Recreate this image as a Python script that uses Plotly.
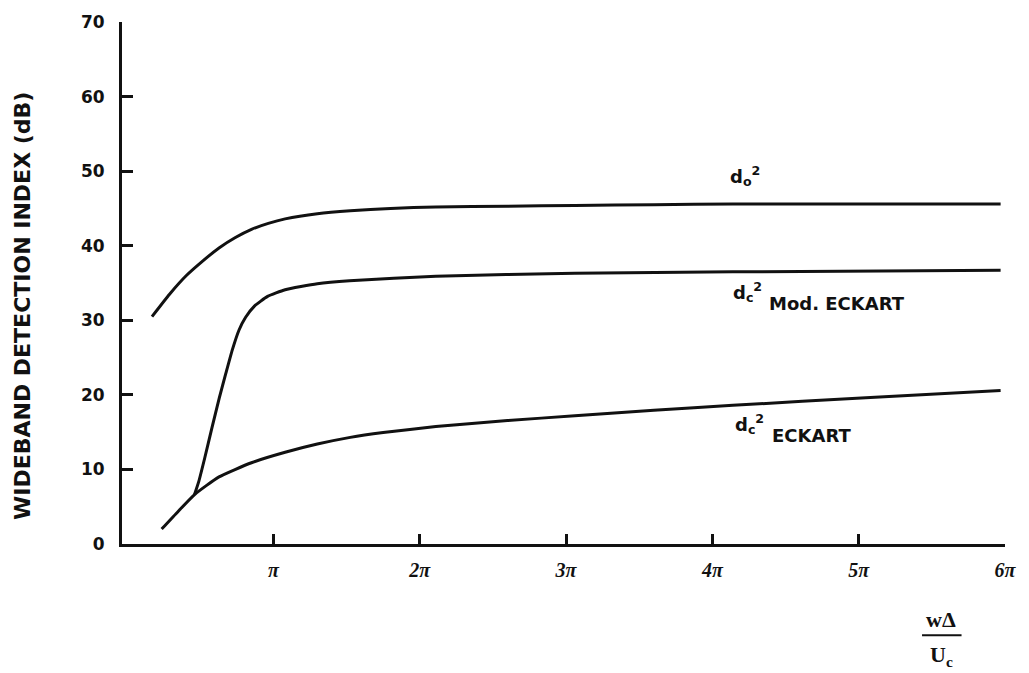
import plotly.graph_objects as go

# ---- data (x in units of pi, y in dB) ----
x_do = [0.17, 0.29, 0.405, 0.52, 0.628, 0.74, 0.85, 0.965, 1.08, 1.30, 1.525, 1.80, 2.11, 2.60, 3.06, 3.60, 4.14, 5.00, 5.97]
y_do = [30.5, 33.5, 36.0, 38.0, 39.7, 41.1, 42.2, 43.0, 43.6, 44.3, 44.7, 45.0, 45.2, 45.3, 45.4, 45.5, 45.6, 45.6, 45.6]

x_mod = [0.46, 0.49, 0.53, 0.58, 0.63, 0.675, 0.72, 0.765, 0.81, 0.87, 0.96, 1.08, 1.30, 1.52, 2.11, 3.06, 4.14, 5.97]
y_mod = [6.6, 8.4, 11.5, 15.6, 19.6, 22.9, 26.1, 28.7, 30.4, 31.9, 33.2, 34.1, 34.9, 35.3, 35.9, 36.3, 36.5, 36.7]

x_eck = [0.236, 0.35, 0.459, 0.628, 0.85, 1.08, 1.30, 1.525, 1.75, 2.11, 2.60, 3.06, 3.60, 4.14, 5.08, 5.97]
y_eck = [2.0, 4.4, 6.6, 9.0, 10.9, 12.3, 13.4, 14.3, 14.95, 15.75, 16.55, 17.2, 17.95, 18.6, 19.65, 20.6]

x_tickvals = [1, 2, 3, 4, 5, 6]
x_ticktext = ["π", "2π", "3π", "4π", "5π", "6π"]
y_tickvals = [0, 10, 20, 30, 40, 50, 60, 70]

W, H = 1029, 673
L, R, T, B = 122, 13, 18, 129
PW, PH = W - L - R, H - T - B


def px(x):
    return (x - L) / PW


def py(y):
    return (H - B - y) / PH


line_style = dict(color="#111111", width=3, shape="spline", smoothing=0.5)

fig = go.Figure()
for xs, ys in [(x_do, y_do), (x_mod, y_mod), (x_eck, y_eck)]:
    fig.add_trace(go.Scatter(x=xs, y=ys, mode="lines", line=line_style,
                             showlegend=False, hoverinfo="skip"))

lab_font = dict(family="DejaVu Sans", size=18, color="#111111", weight="bold")
ann = []
ann.append(dict(text="d<sub>o</sub><sup>2</sup>", x=px(736), y=py(173), xanchor="left", yanchor="middle",
                font=lab_font))
ann.append(dict(text="d<sub>c</sub><sup>2</sup>", x=px(739), y=py(290), xanchor="left", yanchor="middle",
                font=lab_font))
ann.append(dict(text="Mod. ECKART", x=px(775), y=py(302), xanchor="left", yanchor="middle",
                font=lab_font))
ann.append(dict(text="d<sub>c</sub><sup>2</sup>", x=px(741), y=py(423), xanchor="left", yanchor="middle",
                font=lab_font))
ann.append(dict(text="ECKART", x=px(778), y=py(435), xanchor="left", yanchor="middle",
                font=lab_font))
# y-axis title
ann.append(dict(text="WIDEBAND DETECTION INDEX (dB)", x=px(22), y=py(304), textangle=-90,
                xanchor="center", yanchor="middle",
                font=dict(family="DejaVu Sans", size=22, color="#111111", weight="bold")))
# x-axis title as a fraction
serif = dict(family="Liberation Serif", size=22, color="#111111", weight="bold")
ann.append(dict(text="wΔ", x=px(951), y=py(620), xanchor="center", yanchor="middle", font=serif))
ann.append(dict(text="U<sub>c</sub>", x=px(952), y=py(657), xanchor="center", yanchor="middle", font=serif))
for a in ann:
    a.update(xref="paper", yref="paper", showarrow=False)

fig.update_layout(
    width=W, height=H,
    margin=dict(l=L, r=R, t=T, b=B),
    paper_bgcolor="white", plot_bgcolor="white",
    annotations=ann,
    shapes=[dict(type="line", xref="paper", yref="paper", x0=px(932), x1=px(972), y0=py(636), y1=py(636),
                 line=dict(color="#111111", width=2))],
    xaxis=dict(range=[-0.035, 6.0], tickmode="array", tickvals=x_tickvals, ticktext=x_ticktext,
               ticks="inside", ticklen=10, tickwidth=2.5, tickcolor="#111111",
               showline=True, linewidth=3, linecolor="#111111", showgrid=False, zeroline=False,
               tickfont=dict(family="Liberation Serif", size=20, color="#111111", style="italic", weight="bold"),
               ticklabelstandoff=6),
    yaxis=dict(range=[0, 70], tickmode="array", tickvals=y_tickvals,
               ticks="inside", ticklen=11, tickwidth=2.5, tickcolor="#111111",
               showline=True, linewidth=3, linecolor="#111111", showgrid=False, zeroline=False,
               tickfont=dict(family="DejaVu Sans", size=17, color="#111111", weight="bold"),
               ticklabelstandoff=11),
)

fig.write_html("out.html")
